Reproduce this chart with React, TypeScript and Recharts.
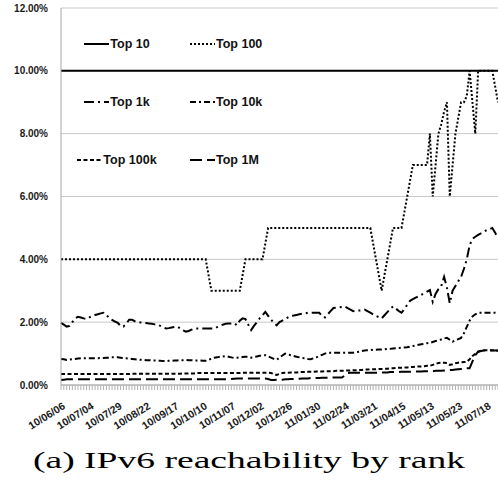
import { CartesianGrid, Line, LineChart, XAxis, YAxis } from 'recharts';

// 日付ラベル（10サンプルごと）
const tickLabels = [
  '10/06/06', '10/07/04', '10/07/29', '10/08/22', '10/09/17', '10/10/10', '10/11/07', '10/12/02',
  '10/12/26', '11/01/30', '11/02/24', '11/03/21', '11/04/15', '11/05/13', '11/05/23', '11/07/18',
];

const yTicks = [0, 2, 4, 6, 8, 10, 12];

// IPv6 到達率 (%)
const top10 = [
  10, 10, 10, 10, 10, 10, 10, 10, 10, 10,
  10, 10, 10, 10, 10, 10, 10, 10, 10, 10,
  10, 10, 10, 10, 10, 10, 10, 10, 10, 10,
  10, 10, 10, 10, 10, 10, 10, 10, 10, 10,
  10, 10, 10, 10, 10, 10, 10, 10, 10, 10,
  10, 10, 10, 10, 10, 10, 10, 10, 10, 10,
  10, 10, 10, 10, 10, 10, 10, 10, 10, 10,
  10, 10, 10, 10, 10, 10, 10, 10, 10, 10,
  10, 10, 10, 10, 10, 10, 10, 10, 10, 10,
  10, 10, 10, 10, 10, 10, 10, 10, 10, 10,
  10, 10, 10, 10, 10, 10, 10, 10, 10, 10,
  10, 10, 10, 10, 10, 10, 10, 10, 10, 10,
  10, 10, 10, 10, 10, 10, 10, 10, 10, 10,
  10, 10, 10, 10, 10, 10, 10, 10, 10, 10,
  10, 10, 10, 10, 10, 10, 10, 10, 10, 10,
  10, 10, 10, 10, 10,
];

const top100 = [
  4, 4, 4, 4, 4, 4, 4, 4, 4, 4,
  4, 4, 4, 4, 4, 4, 4, 4, 4, 4,
  4, 4, 4, 4, 4, 4, 4, 4, 4, 4,
  4, 4, 4, 4, 4, 4, 4, 4, 4, 4,
  4, 4, 4, 4, 4, 4, 4, 4, 4, 4,
  4, 4, 3.5, 3, 3, 3, 3, 3, 3, 3,
  3, 3, 3, 3, 3.5, 4, 4, 4, 4, 4,
  4, 4, 4.5, 5, 5, 5, 5, 5, 5, 5,
  5, 5, 5, 5, 5, 5, 5, 5, 5, 5,
  5, 5, 5, 5, 5, 5, 5, 5, 5, 5,
  5, 5, 5, 5, 5, 5, 5, 5, 5, 5,
  4.5, 4, 3.5, 3, 3.5, 4, 4.5, 5, 5, 5,
  5, 5.5, 6, 6.5, 7, 7, 7, 7, 7, 7,
  8, 6, 7, 8, 8.3, 8.7, 9, 6, 7, 8,
  8.5, 9, 9, 9.2, 10, 9, 8, 10, 10, 10,
  10, 10, 10, 9.5, 9,
];

const top1k = [
  1.98, 1.92, 1.86, 1.88, 2.0, 2.12, 2.17, 2.15, 2.12, 2.1,
  2.15, 2.2, 2.23, 2.25, 2.28, 2.3, 2.22, 2.14, 2.07, 2.02,
  1.98, 1.88, 1.86, 1.95, 2.08, 2.08, 2.03, 2.0, 1.99, 1.98,
  1.97, 1.96, 1.95, 1.93, 1.92, 1.88, 1.84, 1.8, 1.81, 1.83,
  1.85, 1.86, 1.8, 1.74, 1.7, 1.72, 1.76, 1.8, 1.8, 1.8,
  1.8, 1.8, 1.8, 1.8, 1.8, 1.84, 1.88, 1.92, 1.95, 1.96,
  1.96, 1.97, 1.9, 2.05, 2.12, 2.1, 1.92, 1.75, 1.88, 2.0,
  2.12, 2.22, 2.33, 2.2, 2.08, 1.98, 1.9, 2.0, 2.05, 2.1,
  2.15, 2.2, 2.21, 2.23, 2.25, 2.27, 2.28, 2.3, 2.3, 2.3,
  2.3, 2.3, 2.2, 2.15, 2.25, 2.35, 2.45, 2.46, 2.47, 2.48,
  2.5, 2.45, 2.4, 2.35, 2.36, 2.37, 2.38, 2.4, 2.35, 2.3,
  2.25, 2.2, 2.16, 2.12, 2.22, 2.32, 2.42, 2.5, 2.43, 2.36,
  2.3, 2.42, 2.55, 2.68, 2.73, 2.78, 2.82, 2.87, 2.92, 2.97,
  3.02, 2.65, 2.9, 3.05, 3.15, 3.44, 3.1, 2.6, 3.0, 3.15,
  3.3, 3.44, 3.7, 4.0, 4.45, 4.65, 4.72, 4.78, 4.83, 4.88,
  4.93, 4.96, 5.0, 4.85, 4.67,
];

const top10k = [
  0.83, 0.82, 0.8, 0.81, 0.82, 0.83, 0.84, 0.85, 0.85, 0.85,
  0.85, 0.85, 0.85, 0.85, 0.86, 0.86, 0.87, 0.87, 0.88, 0.88,
  0.88, 0.87, 0.86, 0.85, 0.84, 0.83, 0.82, 0.81, 0.8, 0.8,
  0.79, 0.79, 0.78, 0.78, 0.77, 0.77, 0.76, 0.76, 0.77, 0.77,
  0.78, 0.78, 0.79, 0.79, 0.8, 0.79, 0.79, 0.78, 0.78, 0.78,
  0.77, 0.77, 0.8, 0.84, 0.87, 0.88, 0.9, 0.91, 0.92, 0.9,
  0.88, 0.86, 0.87, 0.88, 0.89, 0.9, 0.9, 0.87, 0.89, 0.91,
  0.93, 0.94, 0.95, 0.91, 0.87, 0.83, 0.8, 0.87, 0.94, 1.0,
  0.97, 0.95, 0.92, 0.9, 0.88, 0.86, 0.85, 0.83, 0.82, 0.85,
  0.88, 0.92, 0.96, 1.0, 1.03, 1.03, 1.03, 1.03, 1.03, 1.03,
  1.03, 1.03, 1.03, 1.03, 1.05, 1.06, 1.08, 1.1, 1.11, 1.11,
  1.12, 1.12, 1.13, 1.13, 1.14, 1.15, 1.15, 1.16, 1.17, 1.18,
  1.19, 1.19, 1.2, 1.22, 1.24, 1.26, 1.28, 1.3, 1.31, 1.33,
  1.34, 1.37, 1.4, 1.42, 1.45, 1.48, 1.5, 1.44, 1.38, 1.42,
  1.46, 1.5, 1.65, 1.85, 2.05, 2.18, 2.25, 2.3, 2.3, 2.3,
  2.3, 2.3, 2.3, 2.3, 2.28,
];

const top100k = [
  0.35, 0.35, 0.35, 0.35, 0.35, 0.35, 0.35, 0.35, 0.35, 0.35,
  0.35, 0.35, 0.35, 0.35, 0.35, 0.35, 0.35, 0.35, 0.35, 0.35,
  0.35, 0.35, 0.35, 0.35, 0.35, 0.36, 0.36, 0.36, 0.36, 0.36,
  0.36, 0.36, 0.36, 0.36, 0.36, 0.36, 0.36, 0.36, 0.36, 0.36,
  0.36, 0.36, 0.36, 0.37, 0.37, 0.37, 0.37, 0.37, 0.38, 0.38,
  0.38, 0.38, 0.38, 0.38, 0.38, 0.38, 0.38, 0.38, 0.38, 0.38,
  0.38, 0.38, 0.38, 0.38, 0.39, 0.39, 0.39, 0.39, 0.39, 0.39,
  0.39, 0.39, 0.39, 0.39, 0.38, 0.35, 0.32, 0.35, 0.38, 0.39,
  0.39, 0.4, 0.4, 0.4, 0.41, 0.41, 0.41, 0.42, 0.42, 0.42,
  0.43, 0.43, 0.43, 0.44, 0.44, 0.44, 0.44, 0.45, 0.45, 0.45,
  0.46, 0.46, 0.46, 0.47, 0.47, 0.48, 0.48, 0.49, 0.49, 0.5,
  0.5, 0.5, 0.51, 0.51, 0.52, 0.52, 0.53, 0.53, 0.54, 0.55,
  0.55, 0.56, 0.56, 0.57, 0.57, 0.58, 0.59, 0.59, 0.6, 0.61,
  0.61, 0.64, 0.67, 0.7, 0.71, 0.71, 0.7, 0.64, 0.66, 0.69,
  0.71, 0.72, 0.73, 0.74, 0.82, 0.92, 1.0, 1.06, 1.09, 1.11,
  1.11, 1.11, 1.11, 1.1, 1.09,
];

const top1M = [
  0.16, 0.17, 0.18, 0.18, 0.18, 0.18, 0.18, 0.18, 0.18, 0.18,
  0.18, 0.18, 0.18, 0.18, 0.18, 0.18, 0.18, 0.18, 0.18, 0.18,
  0.18, 0.18, 0.18, 0.18, 0.18, 0.18, 0.18, 0.18, 0.18, 0.18,
  0.18, 0.18, 0.18, 0.18, 0.18, 0.18, 0.18, 0.18, 0.18, 0.18,
  0.18, 0.18, 0.18, 0.18, 0.18, 0.18, 0.18, 0.18, 0.18, 0.18,
  0.18, 0.18, 0.18, 0.18, 0.18, 0.18, 0.18, 0.18, 0.18, 0.18,
  0.19, 0.2, 0.21, 0.21, 0.21, 0.21, 0.21, 0.21, 0.21, 0.21,
  0.21, 0.21, 0.21, 0.19, 0.16, 0.16, 0.17, 0.17, 0.17, 0.18,
  0.18, 0.19, 0.19, 0.2, 0.2, 0.21, 0.21, 0.21, 0.22, 0.22,
  0.22, 0.22, 0.23, 0.23, 0.23, 0.23, 0.24, 0.24, 0.24, 0.24,
  0.3, 0.38, 0.39, 0.39, 0.39, 0.39, 0.39, 0.39, 0.39, 0.39,
  0.39, 0.39, 0.4, 0.4, 0.4, 0.4, 0.41, 0.41, 0.41, 0.41,
  0.42, 0.42, 0.42, 0.42, 0.43, 0.43, 0.43, 0.43, 0.44, 0.44,
  0.44, 0.44, 0.45, 0.45, 0.45, 0.46, 0.47, 0.48, 0.48, 0.49,
  0.5, 0.51, 0.52, 0.53, 0.53, 0.75, 0.95, 1.06, 1.08, 1.1,
  1.1, 1.1, 1.1, 1.1, 1.1,
];

const chartData = top10.map((v, i) => ({
  idx: i,
  top10: v,
  top100: top100[i],
  top1k: top1k[i],
  top10k: top10k[i],
  top100k: top100k[i],
  top1M: top1M[i],
}));

const series = [
  { key: 'top10', name: 'Top 10', dash: undefined },
  { key: 'top100', name: 'Top 100', dash: '2 2' },
  { key: 'top1k', name: 'Top 1k', dash: '10 4 2 4' },
  { key: 'top10k', name: 'Top 10k', dash: '6 3 2 3' },
  { key: 'top100k', name: 'Top 100k', dash: '4 2.5' },
  { key: 'top1M', name: 'Top 1M', dash: '12 5' },
];

const labelFont = '"Liberation Sans", Arial, sans-serif';

function DateTick(props: any) {
  const { x, y, payload } = props;
  const i = Number(payload.value);
  if (i % 10 !== 0) return null;
  return (
    <text
      x={0}
      y={0}
      transform={`translate(${x + 5},${y + 16}) rotate(-32)`}
      textAnchor="end"
      fontSize={10.5}
      fontWeight={700}
      fontFamily={labelFont}
      fill="#1a1a1a"
    >
      {tickLabels[i / 10]}
    </text>
  );
}

export default function App() {
  return (
    <div
      style={{
        position: 'absolute',
        left: 0,
        top: 0,
        width: 498,
        height: 485,
        background: '#fff',
        fontFamily: labelFont,
      }}
    >
      <LineChart width={498} height={440} data={chartData} margin={{ top: 8, right: 0, bottom: 0, left: 0 }}>
        <CartesianGrid vertical={false} stroke="#c8c8c8" />
        <XAxis
          dataKey="idx"
          interval={0}
          height={55}
          tickSize={5}
          tickLine={{ stroke: '#b0b0b0' }}
          axisLine={{ stroke: '#a8a8a8' }}
          tick={<DateTick />}
        />
        <YAxis
          domain={[0, 12]}
          ticks={yTicks}
          width={61}
          tickLine={false}
          axisLine={{ stroke: '#a8a8a8' }}
          tickMargin={7}
          tick={{ fontSize: 10, fontWeight: 700, fill: '#1a1a1a', fontFamily: labelFont }}
          tickFormatter={(v: number) => `${v.toFixed(2)}%`}
        />
        {series.map((s) => (
          <Line
            key={s.key}
            dataKey={s.key}
            name={s.name}
            type="linear"
            stroke="#000"
            strokeWidth={2}
            strokeDasharray={s.dash}
            dot={false}
            activeDot={false}
            isAnimationActive={false}
          />
        ))}
      </LineChart>

      {/* 凡例（プロット内、3行×2列） */}
      <div
        style={{
          position: 'absolute',
          left: 62,
          top: 15,
          display: 'grid',
          gridTemplateColumns: '110px 120px',
          gridAutoRows: '58px',
          columnGap: 18,
        }}
      >
        {series.map((s, i) => (
          <div
            key={s.key}
            style={{
              display: 'flex',
              alignItems: 'center',
              justifyContent: i % 2 === 0 ? 'center' : 'flex-start',
            }}
          >
            <svg width={25} height={4} style={{ display: 'block' }}>
              <line x1={0} y1={2} x2={25} y2={2} stroke="#000" strokeWidth={2} strokeDasharray={s.dash} />
            </svg>
            <span style={{ fontSize: 12.5, fontWeight: 700, color: '#111', marginLeft: 1 }}>{s.name}</span>
          </div>
        ))}
      </div>

      <svg width={498} height={45} style={{ position: 'absolute', left: 0, top: 440 }}>
        <text
          x={249}
          y={28}
          textAnchor="middle"
          fontFamily='"Liberation Serif", "DejaVu Serif", serif'
          fontSize={24}
          textLength={432}
          lengthAdjust="spacingAndGlyphs"
          fill="#000"
        >
          (a) IPv6 reachability by rank
        </text>
      </svg>
    </div>
  );
}
